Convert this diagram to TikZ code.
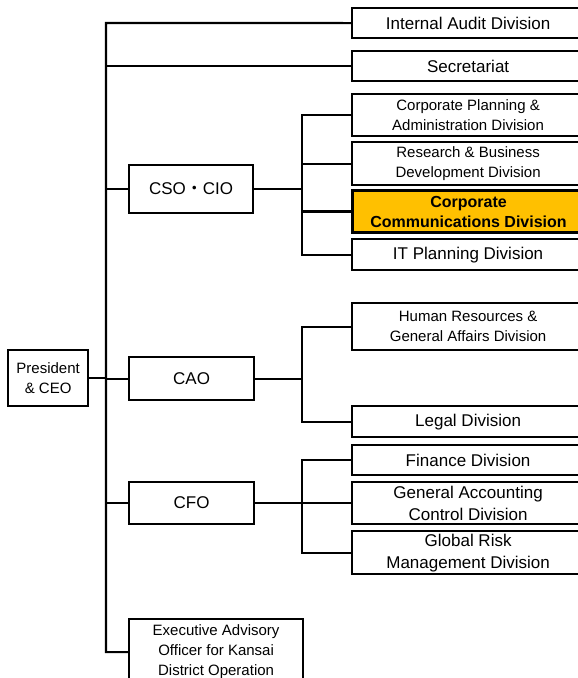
\documentclass[tikz,border=0pt]{standalone}
\usepackage{fontspec}
\setmainfont{Liberation Sans}
\newfontfamily\cjk{Noto Sans CJK JP}
\definecolor{ccgold}{HTML}{FFC000}
\tikzstyle{unit} = [rectangle, draw, line width=2.2pt, minimum width=232pt, inner sep=0pt, align=center, anchor=north west, font=\fontsize{17}{22}\selectfont]
\tikzstyle{officer} = [rectangle, draw, line width=2.2pt, minimum width=125pt, inner sep=0pt, align=center, anchor=north west, font=\fontsize{17}{22}\selectfont]
\tikzstyle{small} = [font=\fontsize{15}{20}\selectfont]
\tikzstyle{focus} = [fill=ccgold, line width=3pt, font=\bfseries\fontsize{16}{20}\selectfont]
\tikzstyle{link} = [line width=2.2pt]

\begin{document}
\begin{tikzpicture}[x=1pt,y=-1pt]
  \clip (0,0) rectangle (578,678);

  \node[officer, small, minimum width=80pt, minimum height=56pt] (pres) at (7,349) {President\\\& CEO};
  \node[officer, minimum width=124pt, minimum height=48pt] (cso) at (128,164) {CSO{\cjk ・}CIO};
  \node[officer, minimum height=43pt] (cao) at (128,356) {CAO};
  \node[officer, minimum height=42pt] (cfo) at (128,481) {CFO};
  \node[officer, small, minimum width=174pt, minimum height=66pt] (exec) at (128,618) {Executive Advisory\\Officer for Kansai\\District Operation};

  \node[unit, minimum height=30pt] (audit) at (351,7) {Internal Audit Division};
  \node[unit, minimum height=30pt] (secr) at (351,50) {Secretariat};
  \node[unit, small, minimum height=42pt] (cpd) at (351,93) {Corporate Planning \&\\Administration Division};
  \node[unit, small, minimum height=43pt] (rbd) at (351,141) {Research \& Business\\Development Division};
  \node[unit, focus, minimum height=42pt] (ccd) at (351,189) {Corporate\\Communications Division};
  \node[unit, minimum height=31pt] (itp) at (351,238) {IT Planning Division};
  \node[unit, small, minimum height=47pt] (hr) at (351,302) {Human Resources \&\\General Affairs Division};
  \node[unit, minimum height=31pt] (legal) at (351,405) {Legal Division};
  \node[unit, minimum height=30pt] (fin) at (351,444) {Finance Division};
  \node[unit, minimum height=42pt] (gac) at (351,481) {General Accounting\\Control Division};
  \node[unit, minimum height=43pt] (grm) at (351,530) {Global Risk\\Management Division};

  \coordinate (trunk) at (106,23);
  \coordinate (joint) at (302,188);

  \draw[link] (audit.west) -- (trunk) -- (exec.west -| trunk) -- (exec.west);
  \foreach \n in {secr,cso,cao,cfo}
    \draw[link] (\n.west) -- (\n.west -| trunk);
  \draw[link] (pres.east) -- (pres.east -| trunk);

  \draw[link] (cso.east) -- (cso.east -| joint);
  \draw[link] (cpd.west) -| (itp.west -| joint) -- (itp.west);
  \draw[link] (rbd.west) -- (rbd.west -| joint);
  \draw[link] (ccd.west) -- (ccd.west -| joint);

  \draw[link] (cao.east) -- (cao.east -| joint);
  \draw[link] (hr.west) -| (legal.west -| joint) -- (legal.west);

  \draw[link] (cfo.east) -- (cfo.east -| joint);
  \draw[link] (fin.west) -| (grm.west -| joint) -- (grm.west);
  \draw[link] (gac.west) -- (gac.west -| joint);
\end{tikzpicture}
\end{document}
